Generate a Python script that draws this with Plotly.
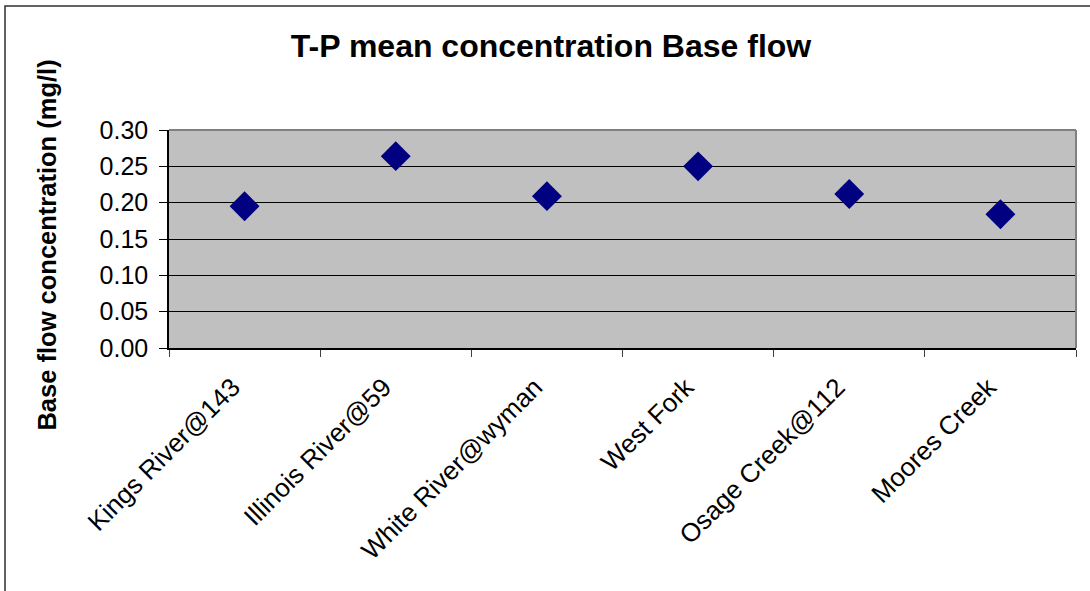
import plotly.graph_objects as go

categories = ["Kings River@143", "Illinois River@59", "White River@wyman",
              "West Fork", "Osage Creek@112", "Moores Creek"]
values = [0.195, 0.264, 0.209, 0.250, 0.212, 0.184]
y_ticks = [0.00, 0.05, 0.10, 0.15, 0.20, 0.25, 0.30]
y_ticklabels = ["0.00", "0.05", "0.10", "0.15", "0.20", "0.25", "0.30"]

FONT = "Liberation Sans, Arial, sans-serif"

fig = go.Figure()
fig.add_trace(go.Scatter(
    x=categories, y=values, mode="markers",
    marker=dict(symbol="diamond", size=23, color="#000080",
                line=dict(width=0)),
    showlegend=False, cliponaxis=False,
))

fig.update_layout(
    width=1090, height=591,
    margin=dict(l=169, r=14, t=130, b=243),
    paper_bgcolor="white", plot_bgcolor="#C0C0C0",
    font=dict(family=FONT, color="black", size=24),
    title=dict(text="<b>T-P mean concentration Base flow</b>",
               x=0.5055, xanchor="center", xref="container",
               y=0.922, yanchor="middle", yref="container",
               font=dict(family=FONT, size=32, color="black")),
    xaxis=dict(
        type="category", range=[-0.5, 5.5],
        showline=True, linecolor="black", linewidth=1.5,
        ticks="outside", ticklen=7, tickcolor="#404040", tickwidth=1,
        tickson="boundaries", tickangle=-45,
        ticklabelstandoff=12, ticklabelshift=-12,
        showgrid=False, zeroline=False,
        tickfont=dict(family=FONT, size=26, color="black"),
    ),
    yaxis=dict(
        range=[0, 0.30], tickvals=y_ticks, ticktext=y_ticklabels,
        showline=True, linecolor="black", linewidth=1.5,
        ticks="outside", ticklen=8, tickcolor="black", tickwidth=1,
        ticklabelstandoff=6,
        showgrid=True, gridcolor="black", gridwidth=1,
        zeroline=False,
        tickfont=dict(family=FONT, size=25, color="black"),
    ),
    annotations=[
        dict(text="<b>Base flow concentration (mg/l)</b>",
             xref="paper", yref="paper", x=-0.1345, y=0.47,
             xanchor="center", yanchor="middle", textangle=-90,
             showarrow=False,
             font=dict(family=FONT, size=25.5, color="black")),
    ],
    shapes=[
        dict(type="rect", xref="paper", yref="paper",
             x0=-0.1808, x1=1.1, y0=-1.3, y1=1.569,
             line=dict(color="#303030", width=1.5), fillcolor="rgba(0,0,0,0)",
             layer="below"),
        dict(type="line", xref="paper", yref="paper", x0=0, x1=1, y0=1, y1=1,
             line=dict(color="#808080", width=2)),
        dict(type="line", xref="paper", yref="paper", x0=1, x1=1, y0=0, y1=1,
             line=dict(color="#808080", width=2)),
    ],
)

fig.write_html("out.html", config={"displayModeBar": False},
               post_script="document.body.style.margin='0px';")
